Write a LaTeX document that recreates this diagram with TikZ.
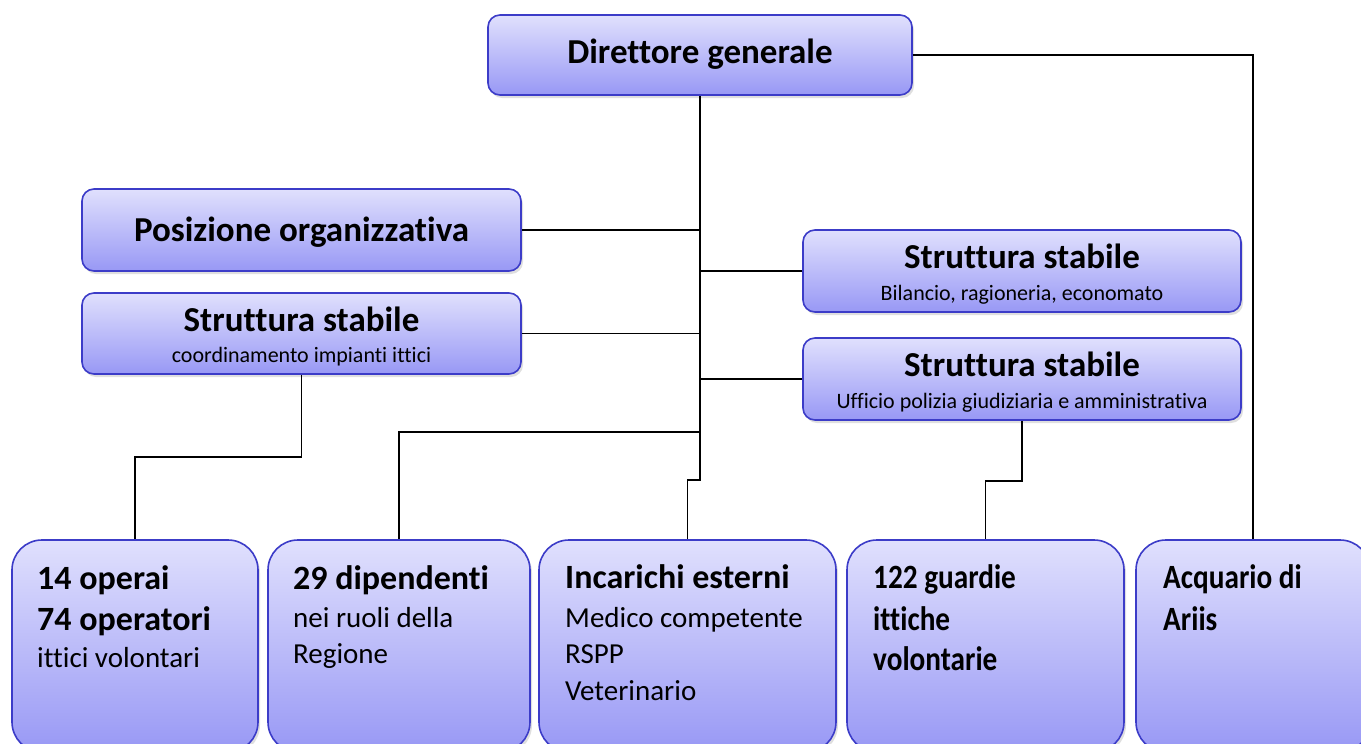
\documentclass[tikz,border=0pt]{standalone}
\usepackage{fontspec}
\setmainfont{Carlito}[Ligatures=NoCommon]
\usepackage{graphicx}
\usetikzlibrary{shadows}
\definecolor{boxtop}{HTML}{E0E0FD}
\definecolor{boxbot}{HTML}{9898F5}
\definecolor{boxline}{HTML}{3C3CC8}
\newcommand{\narrowtxt}[1]{\scalebox{0.86}[1]{#1}}
\tikzset{
  box/.style={draw=boxline, line width=1.6pt, rounded corners=12pt,
    top color=boxtop, bottom color=boxbot, inner sep=0pt,
    drop shadow={opacity=0.25, shadow xshift=2pt, shadow yshift=-3pt}},
  bigbox/.style={box, rounded corners=30pt},
  conn/.style={draw=black, line width=1.6pt},
  ttl/.style={anchor=base, inner sep=0pt, font=\fontsize{35}{35}\selectfont\bfseries},
  sub/.style={anchor=base, inner sep=0pt, font=\fontsize{22}{22}\selectfont},
  bl/.style={anchor=base west, inner sep=0pt, font=\fontsize{34}{34}\selectfont\bfseries},
  rl/.style={anchor=base west, inner sep=0pt, font=\fontsize{29}{29}\selectfont},
}
\begin{document}
\begin{tikzpicture}[x=1pt,y=-1pt]
\useasboundingbox (0,0) rectangle (1361,744);
\clip (0,0) rectangle (1361,744);
\fill[white] (0,0) rectangle (1361,744);
% top boxes
\node[box, minimum width=424pt, minimum height=80pt] (dg) at (700,55) {};
\node[box, minimum width=439pt, minimum height=82pt] (po) at (301.5,230) {};
\node[box, minimum width=439pt, minimum height=81pt] (ssl) at (301.5,333.5) {};
\node[box, minimum width=438pt, minimum height=82pt] (ssr1) at (1022,271) {};
\node[box, minimum width=438pt, minimum height=82pt] (ssr2) at (1022,379) {};
% bottom boxes
\node[bigbox, minimum width=246pt, minimum height=212pt] (ops) at (135,646) {};
\node[bigbox, minimum width=262pt, minimum height=212pt] (dip) at (399,646) {};
\node[bigbox, minimum width=297pt, minimum height=212pt] (inc) at (687.5,646) {};
\node[bigbox, minimum width=277pt, minimum height=212pt] (gua) at (985.5,646) {};
\node[bigbox, minimum width=234pt, minimum height=212pt] (acq) at (1253,646) {};
% texts top
\node[ttl] (tdg) at (700,63) {Direttore generale};
\node[ttl] (tpo) at (301.5,241) {Posizione organizzativa};
\node[ttl] (tssl) at (301.5,331) {Struttura stabile};
\node[sub] (sssl) at (301.5,362) {coordinamento impianti ittici};
\node[ttl] (tssr1) at (1022,268) {Struttura stabile};
\node[sub] (sssr1) at (1022,300) {Bilancio, ragioneria, economato};
\node[ttl] (tssr2) at (1022,376) {Struttura stabile};
\node[sub] (sssr2) at (1022,408) {Ufficio polizia giudiziaria e amministrativa};
% texts bottom
\node[bl] (ops1) at (37,589) {14 operai};
\node[bl] (ops2) at (37,630) {74 operatori};
\node[rl] (ops3) at (37,667) {ittici volontari};
\node[bl] (dip1) at (293,589) {29 dipendenti};
\node[rl] (dip2) at (293,627) {nei ruoli della};
\node[rl] (dip3) at (293,663) {Regione};
\node[bl] (inc1) at (565,588) {Incarichi esterni};
\node[rl] (inc2) at (565,627) {Medico competente};
\node[rl] (inc3) at (565,663) {RSPP};
\node[rl] (inc4) at (565,700) {Veterinario};
\node[bl] (gua1) at (873,588) {\narrowtxt{122 guardie}};
\node[bl] (gua2) at (873,630) {\narrowtxt{ittiche}};
\node[bl] (gua3) at (873,670) {\narrowtxt{volontarie}};
\node[bl] (acq1) at (1163,588) {\narrowtxt{Acquario di}};
\node[bl] (acq2) at (1163,630) {\narrowtxt{Ariis}};
% connectors
\coordinate (j1) at (700,480);
\coordinate (j2) at (700,432);
\coordinate (m1) at (302,457);
\coordinate (m2) at (1022,481);
\draw[conn] (dg.south) -- (j1) -- (j1 -| inc.north) -- (inc.north);
\draw[conn] (po.east) -- (po.east -| dg.south);
\draw[conn] (ssl.east) -- (ssl.east -| dg.south);
\draw[conn] (ssr1.west) -- (ssr1.west -| dg.south);
\draw[conn] (ssr2.west) -- (ssr2.west -| dg.south);
\draw[conn] (j2) -| (dip.north);
\draw[conn] (ssl.south) -- (ssl.south |- m1) -| (ops.north);
\draw[conn] (ssr2.south) -- (ssr2.south |- m2) -| (gua.north);
\draw[conn] (dg.east) -| (acq.north);
\end{tikzpicture}
\end{document}
